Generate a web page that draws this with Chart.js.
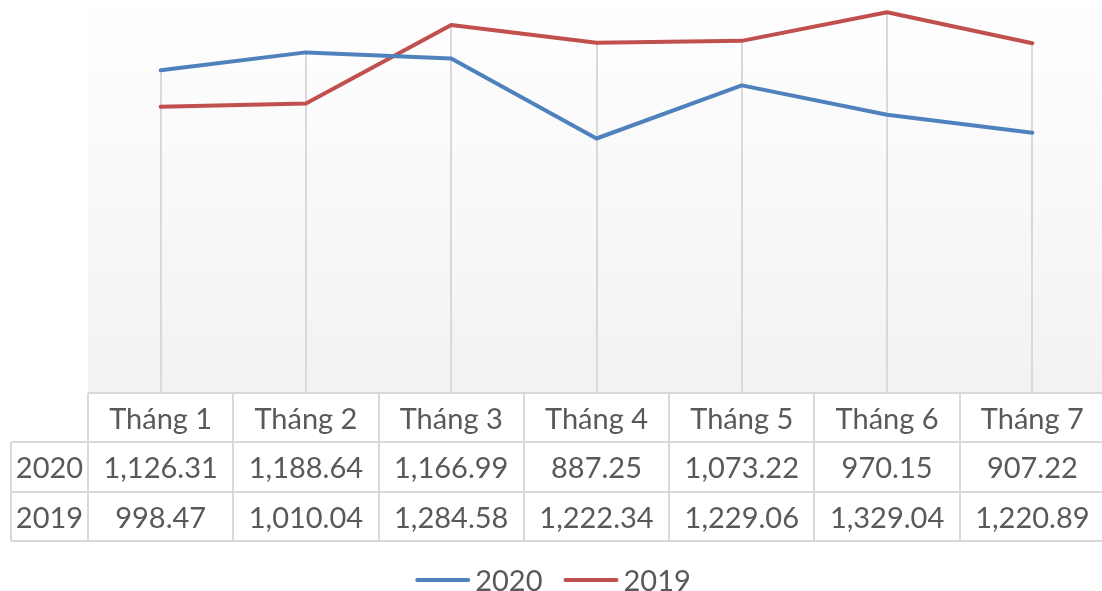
<!DOCTYPE html>
<html>
<head>
<meta charset="utf-8">
<script src="https://cdn.jsdelivr.net/npm/chart.js@4"></script>
<style>
    html, body { margin: 0; padding: 0; background: #fff; overflow: hidden; width: 1102px; height: 591px; }
    #wrap { position: absolute; left: 0; top: -8px; width: 1110px; height: 599px; }
</style>
</head>
<body>
<div id="wrap"><canvas id="lineChart" width="1110" height="599"></canvas></div>
<script>
    const categories = ['Tháng 1', 'Tháng 2', 'Tháng 3', 'Tháng 4', 'Tháng 5', 'Tháng 6', 'Tháng 7'];
    const seriesNames = ['2020', '2019'];
    const values2020 = [1126.31, 1188.64, 1166.99, 887.25, 1073.22, 970.15, 907.22];
    const values2019 = [998.47, 1010.04, 1284.58, 1222.34, 1229.06, 1329.04, 1220.89];
    const seriesColors = ['#4f81bd', '#c0504d'];

    const textColor = '#595959';
    const borderColor = '#d9d9d9';
    const fontFamily = 'Lato, "Open Sans", sans-serif';

    function fmt(v) {
        return v.toLocaleString('en-US', { minimumFractionDigits: 2, maximumFractionDigits: 2 });
    }

    // background, drop lines, data table and legend
    const tablePlugin = {
        id: 'tablePlugin',
        beforeDatasetsDraw(chart) {
            const ctx = chart.ctx;
            const area = chart.chartArea;
            const x = chart.scales.x;
            const y = chart.scales.y;

            const grad = ctx.createLinearGradient(0, area.top, 0, area.bottom);
            grad.addColorStop(0, '#ffffff');
            grad.addColorStop(1, '#f2f2f2');
            ctx.save();
            ctx.fillStyle = grad;
            ctx.fillRect(area.left, area.top, area.right - area.left, area.bottom - area.top + 1);

            // drop lines from the highest point down
            ctx.strokeStyle = borderColor;
            ctx.lineWidth = 2;
            categories.forEach(function (c, i) {
                const px = Math.round(x.getPixelForValue(i));
                const top = Math.min(y.getPixelForValue(values2020[i]), y.getPixelForValue(values2019[i]));
                ctx.beginPath();
                ctx.moveTo(px, top);
                ctx.lineTo(px, area.bottom + 1);
                ctx.stroke();
            });
            ctx.restore();
        },
        afterDraw(chart) {
            const ctx = chart.ctx;
            const area = chart.chartArea;
            const x = chart.scales.x;
            const colW = (area.right - area.left) / categories.length;
            const rowH = 49.3;
            const labelLeft = 11;
            const t0 = area.bottom + 1;
            const rows = [values2020, values2019];

            ctx.save();
            ctx.strokeStyle = borderColor;
            ctx.lineWidth = 2;
            ctx.beginPath();
            // horizontal lines
            ctx.moveTo(area.left, t0); ctx.lineTo(area.right, t0);
            for (let r = 1; r <= 3; r++) {
                const yy = Math.round(t0 + r * rowH);
                ctx.moveTo(labelLeft, yy); ctx.lineTo(area.right, yy);
            }
            // vertical lines
            for (let c = 0; c <= categories.length; c++) {
                const xx = Math.round(area.left + c * colW);
                ctx.moveTo(xx, t0); ctx.lineTo(xx, t0 + 3 * rowH);
            }
            ctx.moveTo(labelLeft, t0 + rowH); ctx.lineTo(labelLeft, t0 + 3 * rowH);
            ctx.stroke();

            ctx.fillStyle = textColor;
            ctx.font = '29px ' + fontFamily;
            ctx.textAlign = 'center';
            ctx.textBaseline = 'middle';
            categories.forEach(function (c, i) {
                const px = x.getPixelForValue(i);
                ctx.fillText(c, px, t0 + rowH / 2 + 2);
                rows.forEach(function (vals, r) {
                    ctx.fillText(fmt(vals[i]), px, t0 + (r + 1.5) * rowH + 2);
                });
            });
            seriesNames.forEach(function (n, r) {
                ctx.fillText(n, (labelLeft + area.left) / 2, t0 + (r + 1.5) * rowH + 2);
            });

            // legend
            const lineLen = 55, gap = 5, itemGap = 21;
            const widths = seriesNames.map(function (n) { return ctx.measureText(n).width; });
            const total = widths.reduce(function (a, w) { return a + lineLen + gap + w; }, 0) + itemGap * (seriesNames.length - 1);
            let lx = 553 - total / 2;
            const ly = 588;
            ctx.textAlign = 'left';
            seriesNames.forEach(function (n, i) {
                ctx.strokeStyle = seriesColors[i];
                ctx.lineWidth = 4;
                ctx.lineCap = 'round';
                ctx.beginPath();
                ctx.moveTo(lx + 2, ly); ctx.lineTo(lx + lineLen - 2, ly);
                ctx.stroke();
                ctx.fillStyle = textColor;
                ctx.fillText(n, lx + lineLen + gap, ly + 2);
                lx += lineLen + gap + widths[i] + itemGap;
            });
            ctx.restore();
        }
    };

    new Chart(document.getElementById('lineChart'), {
        type: 'line',
        data: {
            labels: categories,
            datasets: [
                {
                    label: seriesNames[0],
                    data: values2020,
                    borderColor: seriesColors[0],
                    backgroundColor: seriesColors[0],
                    borderWidth: 4,
                    pointRadius: 0,
                    tension: 0,
                    borderCapStyle: 'round',
                    borderJoinStyle: 'round'
                },
                {
                    label: seriesNames[1],
                    data: values2019,
                    borderColor: seriesColors[1],
                    backgroundColor: seriesColors[1],
                    borderWidth: 4,
                    pointRadius: 0,
                    tension: 0,
                    borderCapStyle: 'round',
                    borderJoinStyle: 'round'
                }
            ]
        },
        options: {
            responsive: false,
            devicePixelRatio: 1,
            animation: false,
            layout: { padding: { left: 88, right: 5, top: 0, bottom: 199 } },
            plugins: {
                legend: { display: false },
                tooltip: { enabled: false }
            },
            scales: {
                x: { display: false, offset: true },
                y: { display: false, min: 0, max: 1400 }
            }
        },
        plugins: [tablePlugin]
    });
</script>
</body>
</html>
